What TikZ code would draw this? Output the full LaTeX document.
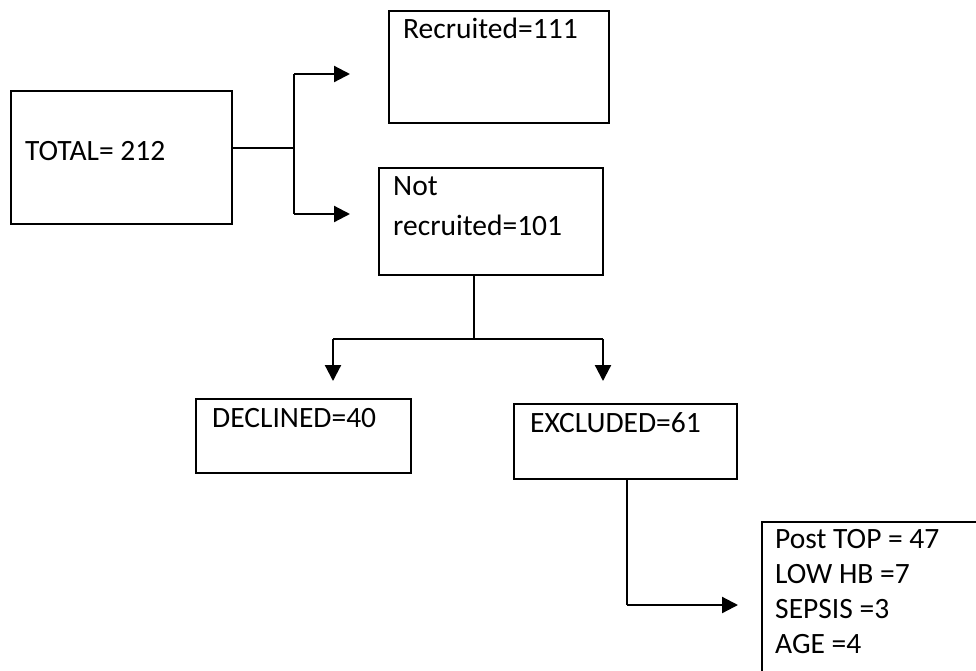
\documentclass[tikz,border=0pt]{standalone}
\usepackage{fontspec}
\setmainfont{Carlito}
\usetikzlibrary{arrows.meta}
\begin{document}
\begin{tikzpicture}[x=1pt,y=-1pt,
  box/.style={draw=black, line width=2pt, inner sep=0pt, anchor=north west},
  txt/.style={anchor=base west, inner sep=0pt, font=\fontsize{29.5}{35}\selectfont},
  conn/.style={draw=black, line width=1.6pt},
  arr/.style={draw=black, line width=2.2pt, -{Triangle[length=16pt,width=16pt]}}]
\useasboundingbox (0,0) rectangle (976,670);
% boxes
\node[box, minimum width=221pt, minimum height=133pt] (total) at (10,90) {};
\node[box, minimum width=220pt, minimum height=112pt] (recr) at (388,10) {};
\node[box, minimum width=224pt, minimum height=107pt] (notr) at (378,167) {};
\node[box, minimum width=215pt, minimum height=74pt] (decl) at (195,398) {};
\node[box, minimum width=223pt, minimum height=75pt] (excl) at (513,403) {};
\node[box, minimum width=260pt, minimum height=200pt] (post) at (761,521) {};
% texts
\node[txt] (totalt) at (25,160) {TOTAL= 212};
\node[txt] (recrt) at (403,38) {Recruited=111};
\node[txt] (notrt1) at (393,195) {Not};
\node[txt] (notrt2) at (393,235) {recruited=101};
\node[txt] (declt) at (212,427) {DECLINED=40};
\node[txt] (exclt) at (530,432) {EXCLUDED=61};
\node[txt] (postt1) at (775,548) {Post TOP = 47};
\node[txt] (postt2) at (775,583) {LOW HB =7};
\node[txt] (postt3) at (775,618) {SEPSIS =3};
\node[txt] (postt4) at (775,653) {AGE =4};
% junction coordinates
\coordinate (j1) at (294,148);
\coordinate (j1t) at (294,74);
\coordinate (j1b) at (294,214);
\coordinate (a1) at (350,74);
\coordinate (a2) at (350,214);
\coordinate (j2) at (474,339);
\coordinate (j2l) at (333,339);
\coordinate (j2r) at (603,339);
\coordinate (a3) at (333,381);
\coordinate (a4) at (603,381);
\coordinate (j3) at (627,605);
\coordinate (a5) at (738,605);
% connectors
\draw[conn] (total.east |- j1) -- (j1);
\draw[conn] (j1t) -- (j1b);
\draw[arr] (j1t) -- (a1);
\draw[arr] (j1b) -- (a2);
\draw[conn] (notr.south -| j2) -- (j2);
\draw[conn] (j2l) -- (j2r);
\draw[arr] (j2l) -- (a3);
\draw[arr] (j2r) -- (a4);
\draw[conn] (excl.south -| j3) -- (j3);
\draw[arr] (j3) -- (a5);
\end{tikzpicture}
\end{document}
